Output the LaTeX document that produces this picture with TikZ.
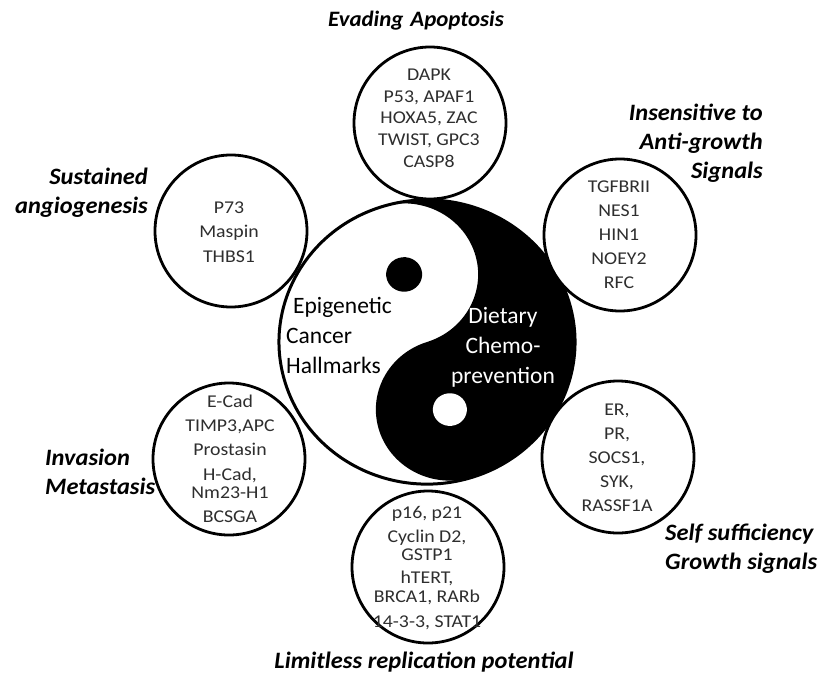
\documentclass[tikz,border=0pt]{standalone}
\usepackage{fontspec}
\setmainfont{Carlito}
\newfontfamily\genefont[FakeStretch=1.1]{Carlito}
\newfontfamily\labelfont[FakeStretch=1.04]{Carlito}
\begin{document}
\begin{tikzpicture}[x=1pt,y=-1pt,
  gene/.style={circle, draw=black, line width=2.8pt, fill=white, minimum size=152pt, inner sep=0pt},
  genetext/.style={align=center, font=\genefont\fontsize{18}{18.5}\selectfont, text=black!82},
  hallmark/.style={font=\labelfont\fontsize{23.5}{29}\selectfont\bfseries\itshape, inner sep=0pt},
  yytext/.style={font=\fontsize{23.5}{30}\selectfont, inner sep=0pt}]
\useasboundingbox (0,0) rectangle (821,675);
\fill[white] (0,0) rectangle (821,675);

% yin-yang
\begin{scope}[shift={(427,342)}, yscale=0.96, rotate=18]
  \fill[white] (0,0) circle[radius=148];
  \fill[black] (0,-148) arc[start angle=-90, end angle=90, radius=148]
               arc[start angle=90, end angle=270, radius=74]
               arc[start angle=90, end angle=-90, radius=74] -- cycle;
  \fill[black] (0,-74) circle[radius=18];
  \fill[white] (0,74) circle[radius=17];
  \draw[line width=3pt] (0,0) circle[radius=148];
\end{scope}

\node[yytext, align=left] (epi) at (339,335) {\hspace{7pt}Epigenetic\\Cancer\\Hallmarks};
\node[yytext, align=center, text=white] (diet) at (503,347) {Dietary\\Chemo-\\prevention};

% gene circles
\node[gene] (c1) at (430,123) {};
\node[gene] (c2) at (620,235) {};
\node[gene] (c3) at (231,231) {};
\node[gene] (c4) at (229,459) {};
\node[gene] (c5) at (618,457) {};
\node[gene] (c6) at (428,567) {};

\node[genetext] (t1) at (429,118) {DAPK\\[3.2pt]P53, APAF1\\[3.2pt]HOXA5, ZAC\\[3.2pt]TWIST, GPC3\\[3.2pt]CASP8};
\node[genetext] (t2) at (619,235) {TGFBRII\\[5.5pt]NES1\\[5.5pt]HIN1\\[5.5pt]NOEY2\\[5.5pt]RFC};
\node[genetext] (t3) at (229,232) {P73\\[6pt]Maspin\\[6pt]THBS1};
\node[genetext] (t4) at (230,459) {E-Cad\\[6pt]TIMP3,APC\\[5.5pt]Prostasin\\[6pt]H-Cad,\\Nm23-H1\\[5.5pt]BCSGA};
\node[genetext] (t5) at (617,458) {ER,\\[5.5pt]PR,\\[5.5pt]SOCS1,\\[5.5pt]SYK,\\[5.5pt]RASSF1A};
\node[genetext] (t6) at (427,568) {p16, p21\\[5.5pt]Cyclin D2,\\GSTP1\\[4.5pt]hTERT,\\BRCA1, RARb\\[7pt]14-3-3, STAT1};

% hallmark labels
\node[hallmark, font=\labelfont\fontsize{22}{29}\selectfont\bfseries\itshape] (l1) at (416,21) {Evading\hspace{7pt}Apoptosis};
\node[hallmark, align=right, anchor=east] (l2) at (763,143) {Insensitive to\\Anti-growth\hspace{6pt}\\Signals};
\node[hallmark, align=right, anchor=east] (l3) at (148,193) {Sustained\\angiogenesis};
\node[hallmark, align=left, anchor=west] (l4) at (45,472) {Invasion\\Metastasis};
\node[hallmark, align=left, anchor=west] (l5) at (665,549) {Self sufficiency\\Growth signals};
\node[hallmark] (l6) at (424,662) {Limitless replication potential};
\end{tikzpicture}
\end{document}
